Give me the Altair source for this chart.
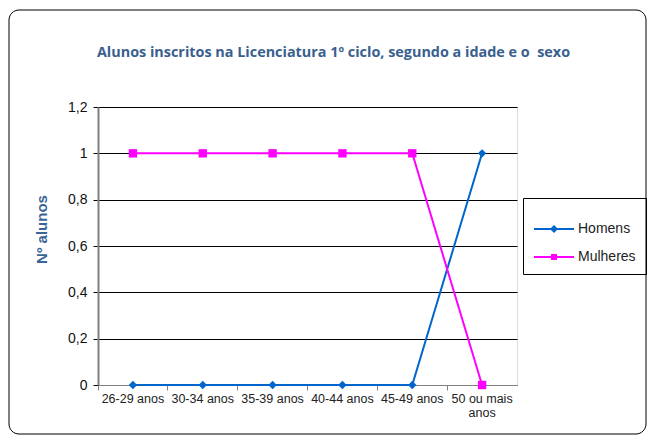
import altair as alt
import pandas as pd

ages = ["26-29 anos", "30-34 anos", "35-39 anos", "40-44 anos", "45-49 anos", "50 ou mais anos"]
homens = [0, 0, 0, 0, 0, 1]
mulheres = [1, 1, 1, 1, 1, 0]
series = ["Homens", "Mulheres"]
colors = ["#0066CC", "#FF00FF"]
shapes = ["diamond", "square"]
title = "Alunos inscritos na Licenciatura 1º ciclo, segundo a idade e o\u00a0 sexo"

rows = []
for a, h, m in zip(ages, homens, mulheres):
    rows.append({"idade": a, "serie": "Homens", "n": h})
    rows.append({"idade": a, "serie": "Mulheres", "n": m})
df = pd.DataFrame(rows)

W, H = 419, 278
PL, PT, PR, PB = 90, 99, 130, 50

LEG_DIAMOND = "M-1,-0.05H1V0.05H-1ZM-0.2,0L0,-0.2L0.2,0L0,0.2Z"
LEG_SQUARE = "M-1,-0.05H1V0.05H-1ZM-0.15,-0.15H0.15V0.15H-0.15Z"

x = alt.X("idade:N", sort=ages,
          scale=alt.Scale(type="band", paddingInner=0, paddingOuter=0),
          bandPosition=0.5,
          axis=alt.Axis(title=None, bandPosition=0, labelAngle=0, labelFont="Liberation Sans",
                        labelFontSize=12.5, labelColor="#222222", tickColor="#808080",
                        domainColor="#808080", tickSize=5, labelPadding=2,
                        labelExpr="datum.label == '50 ou mais anos' ? ['50 ou mais', 'anos'] : datum.label"))
y = alt.Y("n:Q", scale=alt.Scale(domain=[0, 1.2]),
          axis=alt.Axis(title="Nº alunos", values=[0, 0.2, 0.4, 0.6, 0.8, 1.0, 1.2],
                        labelExpr="replace(format(datum.value, '~g'), '.', ',')",
                        labelFont="Liberation Sans", labelFontSize=14, labelColor="#111111",
                        titleFont="Liberation Sans", titleFontSize=15, titleColor="#3A6496",
                        titleFontWeight="bold", titlePadding=18, titleY=122,
                        grid=True, gridColor="#000000", gridWidth=1,
                        domainColor="#808080", domainWidth=2, tickColor="#000000", tickSize=5,
                        labelPadding=6))
color_main = alt.Color("serie:N", scale=alt.Scale(domain=series, range=colors), legend=None)
shape = alt.Shape("serie:N", scale=alt.Scale(domain=series, range=shapes), legend=None)

lines = alt.Chart(df).mark_line(strokeWidth=2).encode(x=x, y=y, color=color_main, detail="serie:N")
points = alt.Chart(df).mark_point(filled=True, size=70, opacity=1).encode(
    x=x, y=y, color=color_main, shape=shape)

leg = alt.Legend(title=None, orient="none", legendX=W + 6, legendY=91,
                 strokeColor="#000000", padding=10, labelFont="Liberation Sans",
                 labelFontSize=14, labelColor="#222222", symbolSize=1600,
                 rowPadding=0, labelLimit=200, labelOffset=3)
legend_layer = alt.Chart(df).transform_filter("false").mark_point(
    filled=True, size=1600, opacity=1
).encode(
    x=x, y=y,
    color=alt.Color("serie:N", scale=alt.Scale(domain=series, range=colors), legend=leg),
    shape=alt.Shape("serie:N", scale=alt.Scale(domain=series, range=[LEG_DIAMOND, LEG_SQUARE]),
                    legend=leg),
)

border = alt.Chart(alt.Data(values=[{"a": 1}])).mark_rect(
    fill=None, stroke="#000000", strokeWidth=1, cornerRadius=10
).encode(x=alt.value(-PL + 1), x2=alt.value(W + PR - 1),
         y=alt.value(-PT + 2), y2=alt.value(H + PB - 1))

title_mark = alt.Chart(alt.Data(values=[{"t": title}])).mark_text(
    font="Open Sans", fontSize=14.4, fontWeight="bold", color="#3A5F8F",
    align="center", baseline="middle"
).encode(text="t:N", x=alt.value(W / 2 + 26), y=alt.value(-54))

chart = alt.layer(border, title_mark, lines, points, legend_layer).resolve_scale(
    shape="independent"
).resolve_legend(shape="independent", color="independent").properties(
    width=W, height=H,
    autosize=alt.AutoSizeParams(type="none"),
    padding={"left": PL, "top": PT, "right": PR, "bottom": PB},
).configure_view(stroke="#808080", strokeWidth=1).configure(background="white")

chart.save("out.html", embed_options={"renderer": "svg", "actions": False})
